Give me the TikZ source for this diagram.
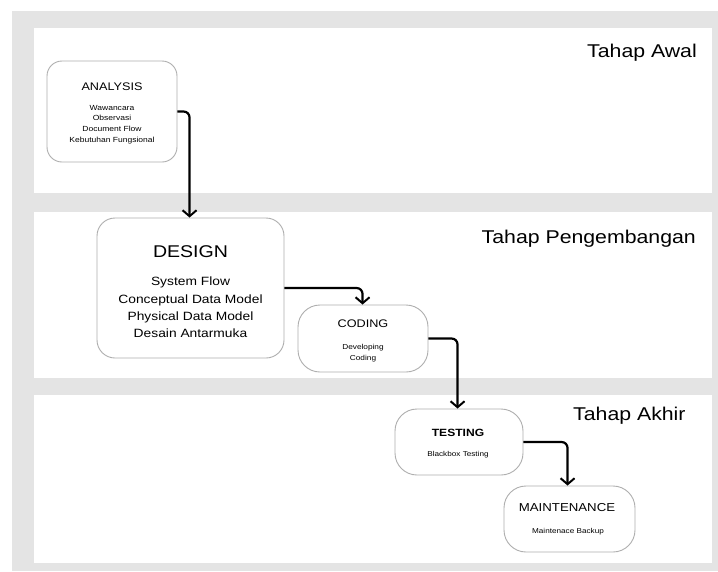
\documentclass[tikz,border=0pt]{standalone}
\usepackage{fontspec}
\setmainfont{Liberation Sans}[FakeStretch=1.15]
\usetikzlibrary{arrows.meta}
\definecolor{panelgrey}{HTML}{E4E4E4}
\definecolor{boxline}{HTML}{AFAFAF}
\tikzset{
  phase/.style={draw=none,fill=white},
  stagebox/.style={draw=boxline,line width=0.9pt,fill=white,inner sep=0pt},
  flow/.style={draw=black,line width=2.2pt,rounded corners=6pt,-{Straight Barb[length=6pt,width=14pt,line width=2pt]}},
  phaselabel/.style={inner sep=0pt,font=\fontsize{18.5}{22}\selectfont},
  txt/.style={inner sep=0pt,align=center}
}
\begin{document}
\begin{tikzpicture}[x=1pt,y=-1pt]
\useasboundingbox (0,0) rectangle (718,571);
% background and phase panels
\fill[panelgrey] (12,11) rectangle (718,571);
\fill[white] (34,28) rectangle (712,193);
\fill[white] (34,212) rectangle (712,378);
\fill[white] (34,395) rectangle (712,563);
\node[phaselabel,anchor=base east] (p1) at (697,57) {Tahap Awal};
\node[phaselabel,anchor=base east] (p2) at (696,243) {Tahap Pengembangan};
\node[phaselabel,anchor=base west] (p3) at (573,420) {Tahap Akhir};
% stage boxes
\node[stagebox,rounded corners=15pt,minimum width=130pt,minimum height=101pt] (ana) at (112,111.5) {};
\node[stagebox,rounded corners=18pt,minimum width=187pt,minimum height=140pt] (des) at (190.5,288) {};
\node[stagebox,rounded corners=22pt,minimum width=130pt,minimum height=67pt] (cod) at (363,338.5) {};
\node[stagebox,rounded corners=22pt,minimum width=128pt,minimum height=66pt] (tes) at (459,442) {};
\node[stagebox,rounded corners=22pt,minimum width=131pt,minimum height=66pt] (mai) at (569.5,519) {};
% texts
\node[txt,font=\fontsize{11}{13}\selectfont] (anat) at (112,87) {ANALYSIS};
\node[txt,font=\fontsize{7.4}{10.7}\selectfont] (anai) at (112,124.5) {Wawancara\\Observasi\\Document Flow\\Kebutuhan Fungsional};
\node[txt,font=\fontsize{17}{20}\selectfont] (dest) at (190.5,252) {DESIGN};
\node[txt,font=\fontsize{12}{17.3}\selectfont] (desi) at (190.5,307.5) {System Flow\\Conceptual Data Model\\Physical Data Model\\Desain Antarmuka};
\node[txt,font=\fontsize{11}{13}\selectfont] (codt) at (363,324) {CODING};
\node[txt,font=\fontsize{7.2}{11}\selectfont] (codi) at (363,353) {Developing\\Coding};
\node[txt,font=\fontsize{10.5}{13}\selectfont\bfseries] (test) at (458,433) {TESTING};
\node[txt,font=\fontsize{7.1}{9}\selectfont] (tesi) at (458,455) {Blackbox Testing};
\node[txt,font=\fontsize{11.5}{13}\selectfont] (mait) at (567,508) {MAINTENANCE};
\node[txt,font=\fontsize{7.1}{9}\selectfont] (maii) at (568,532) {Maintenace Backup};
% connectors
\draw[flow] (ana.east) -| ([xshift=93pt]des.north west);
\draw[flow] (des.east) -| ([xshift=65pt]cod.north west);
\draw[flow] (cod.east) -| ([xshift=63pt]tes.north west);
\draw[flow] (tes.east) -| ([xshift=64pt]mai.north west);
\end{tikzpicture}
\end{document}
